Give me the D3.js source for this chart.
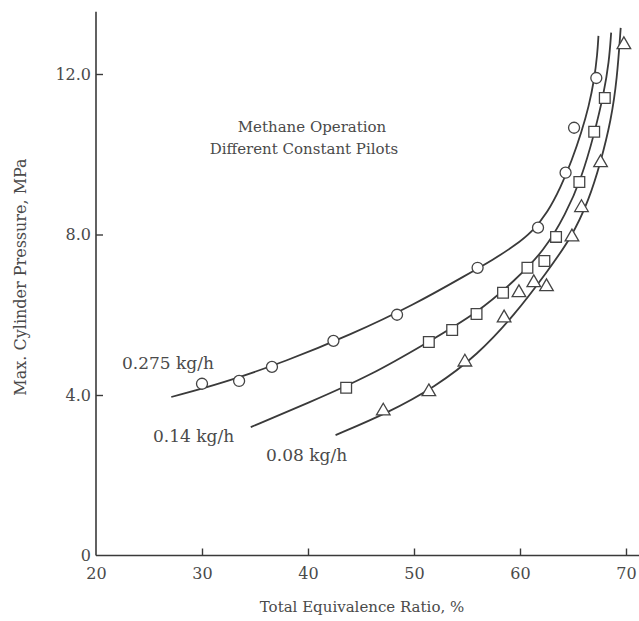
<!DOCTYPE html>
<html>
<head>
<meta charset="utf-8">
<script src="https://cdn.jsdelivr.net/npm/d3@7"></script>
<style>
  body { margin: 0; background: #fff; }
  text { font-family: "DejaVu Serif", "Liberation Serif", serif; fill: #4a4a4a; }
</style>
</head>
<body>
<div id="chart"></div>
<script>
// measured points (total equivalence ratio %, max cylinder pressure MPa)
const circlePts = [[30.0,4.28],[33.5,4.35],[36.6,4.70],[42.4,5.35],[48.4,6.0],[56.0,7.17],[61.7,8.17],[64.3,9.54],[65.1,10.66],[67.2,11.9]];
const squarePts = [[43.6,4.18],[51.4,5.32],[53.6,5.62],[55.9,6.02],[58.4,6.55],[60.7,7.17],[62.3,7.34],[63.4,7.94],[65.6,9.31],[67.0,10.56],[68.0,11.4]];
const trianglePts = [[47.1,3.60],[51.4,4.08],[54.8,4.82],[58.5,5.92],[59.9,6.55],[61.3,6.8],[62.5,6.7],[64.9,7.94],[65.8,8.67],[67.6,9.79],[69.8,12.73]];

// fitted curves as drawn in the figure
const circleCurve = [[27.1,3.95],[32,4.3],[38,4.85],[44,5.5],[50,6.25],[55,7.0],[57.5,7.38],[59.5,7.72],[61.2,8.08],[62.6,8.55],[63.8,9.15],[64.9,9.85],[65.8,10.55],[66.5,11.2],[67.0,11.85],[67.3,12.5],[67.4,12.95]];
const squareCurve = [[34.6,3.2],[40,3.8],[46,4.5],[51.2,5.3],[56,6.05],[59.5,6.85],[62.3,7.6],[64.3,8.5],[65.8,9.4],[67.0,10.5],[67.9,11.5],[68.4,12.3],[68.6,13.03]];
const triangleCurve = [[42.6,3.0],[47.5,3.55],[52,4.2],[56,5.0],[59.5,6.0],[62.5,7.05],[64.9,7.94],[66.5,8.86],[67.6,9.79],[68.6,10.86],[69.15,11.86],[69.5,13.15]];

const seriesNames = ["0.275 kg/h", "0.14 kg/h", "0.08 kg/h"];
const xTicks = [20, 30, 40, 50, 60, 70];
const yTicks = [0, 4, 8, 12];
const yTickLabels = ["0", "4.0", "8.0", "12.0"];

const width = 639;
const height = 621;

const svg = d3.select("#chart")
    .append("svg")
    .attr("width", width)
    .attr("height", height);

const xScale = d3.scaleLinear()
    .domain([20, 70])
    .range([96, 626]);

const yScale = d3.scaleLinear()
    .domain([0, 12])
    .range([555.5, 74]);

const ink = "#3a3a3a";

// axes, ticks point inward
const xAxis = svg.append("g")
    .attr("transform", `translate(0,${yScale(0)})`)
    .call(d3.axisBottom(xScale).tickValues(xTicks).tickSizeInner(-7).tickSizeOuter(0).tickPadding(12).tickFormat(d3.format("d")));

const yAxis = svg.append("g")
    .attr("transform", `translate(${xScale(20)},0)`)
    .call(d3.axisLeft(yScale).tickValues(yTicks).tickSizeInner(-7).tickSizeOuter(0).tickPadding(5)
        .tickFormat(function(d, i) { return yTickLabels[i]; }));

svg.selectAll(".domain").remove();
svg.selectAll(".tick line").attr("stroke", ink).attr("stroke-width", 1.4);
svg.selectAll(".tick text").attr("font-size", 16).attr("fill", "#4a4a4a")
    .style("font-family", "'DejaVu Serif', serif");
// no tick mark at the origin
xAxis.selectAll(".tick").filter(function(d) { return d === 20; }).select("line").remove();
yAxis.selectAll(".tick").filter(function(d) { return d === 0; }).select("line").remove();
xAxis.selectAll(".tick text").attr("dy", "0.71em");

svg.append("line")
    .attr("x1", xScale(20)).attr("x2", width)
    .attr("y1", yScale(0)).attr("y2", yScale(0))
    .attr("stroke", ink).attr("stroke-width", 1.6);

svg.append("line")
    .attr("x1", xScale(20)).attr("x2", xScale(20))
    .attr("y1", yScale(0)).attr("y2", yScale(13.55))
    .attr("stroke", ink).attr("stroke-width", 1.6);

// fitted curves
const line = d3.line()
    .x(function(d) { return xScale(d[0]); })
    .y(function(d) { return yScale(d[1]); })
    .curve(d3.curveBasis);

[circleCurve, squareCurve, triangleCurve].forEach(function(c) {
    svg.append("path")
        .attr("d", line(c))
        .attr("fill", "none")
        .attr("stroke", ink)
        .attr("stroke-width", 1.8);
});

// markers
const markerSets = [
    {pts: circlePts, type: d3.symbolCircle, size: 95},
    {pts: squarePts, type: d3.symbolSquare, size: 115},
    {pts: trianglePts, type: d3.symbolTriangle, size: 80}
];

markerSets.forEach(function(m) {
    svg.append("g").selectAll("path")
        .data(m.pts)
        .enter()
        .append("path")
        .attr("transform", function(d) { return `translate(${xScale(d[0])},${yScale(d[1])})`; })
        .attr("d", d3.symbol().type(m.type).size(m.size))
        .attr("fill", "#fff")
        .attr("stroke", "#444")
        .attr("stroke-width", 1.3);
});

// curve labels
const labelPos = [[122, 369], [153, 442], [266, 461]];
svg.selectAll(".seriesLabel")
    .data(seriesNames)
    .enter()
    .append("text")
    .attr("class", "seriesLabel")
    .attr("x", function(d, i) { return labelPos[i][0]; })
    .attr("y", function(d, i) { return labelPos[i][1]; })
    .attr("font-size", 17)
    .text(function(d) { return d; });

svg.append("text")
    .attr("x", 312).attr("y", 132)
    .attr("text-anchor", "middle")
    .attr("font-size", 15)
    .text("Methane Operation");

svg.append("text")
    .attr("x", 304).attr("y", 154)
    .attr("text-anchor", "middle")
    .attr("font-size", 15)
    .text("Different Constant Pilots");

svg.append("text")
    .attr("class", "axisLabel")
    .attr("x", 362)
    .attr("y", 612)
    .attr("text-anchor", "middle")
    .attr("font-size", 15)
    .text("Total Equivalence Ratio, %");

svg.append("text")
    .attr("class", "axisLabel")
    .attr("x", -277)
    .attr("y", 26)
    .attr("text-anchor", "middle")
    .attr("transform", "rotate(-90)")
    .attr("font-size", 16)
    .text("Max. Cylinder Pressure, MPa");
</script>
</body>
</html>
